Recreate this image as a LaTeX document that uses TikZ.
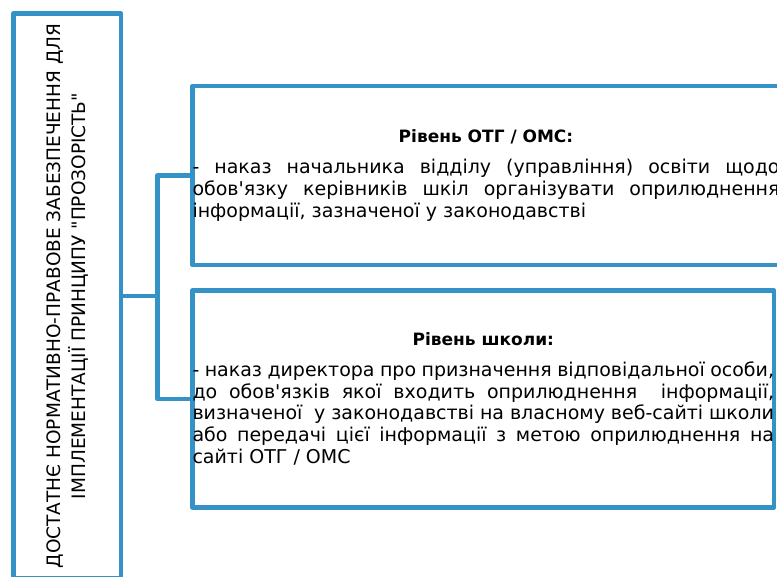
\documentclass[tikz,border=0pt]{standalone}
\usepackage{fontspec}
\setmainfont{DejaVu Sans}
\definecolor{linkblue}{RGB}{52,146,199}
\tikzset{
  box/.style={draw=linkblue, line width=4.75bp, fill=white, line join=round,
    inner sep=0pt, outer sep=0pt},
  link/.style={draw=linkblue, line width=4.75bp, line join=round},
  bodytext/.style={font=\fontsize{19bp}{21.75bp}\selectfont, align=justify}
}
\newcommand{\levelhead}[1]{{\centering\fontsize{17bp}{22bp}\selectfont\bfseries #1\par}\vspace{9bp}}

\begin{document}
\begin{tikzpicture}[x=1bp, y=-1bp]
  \useasboundingbox (0,0) rectangle (777,577);
  \clip (0,0) rectangle (777,577);

  % Connectors first, boxes on top
  \coordinate (fork) at (157.5,296);

  % Left box with the upright title
  \node[box, rotate=90, minimum width=565bp, minimum height=107.5bp, align=center,
        font=\fontsize{18.5bp}{25bp}\selectfont] (basis) at (67.25,296)
    {ДОСТАТНЄ НОРМАТИВНО-ПРАВОВЕ ЗАБЕЗПЕЧЕННЯ ДЛЯ\\
     ІМПЛЕМЕНТАЦІЇ ПРИНЦИПУ \textquotedbl ПРОЗОРІСТЬ\textquotedbl};

  % Level of the community
  \node[box, bodytext, text width=587bp, minimum height=179bp, anchor=west] (otg)
    at (192.5,175.5)
    {\levelhead{Рівень ОТГ / ОМС:}%
     - наказ начальника відділу (управління) освіти щодо\linebreak
     обов\textquotesingle язку керівників шкіл організувати оприлюднення\linebreak
     інформації, зазначеної у законодавстві};

  % Level of the school
  \node[box, bodytext, text width=581.5bp, minimum height=217bp, anchor=west] (school)
    at (192.5,399)
    {\levelhead{Рівень школи:}%
     - наказ директора про призначення відповідальної особи,\linebreak
     до обов\textquotesingle язків якої входить оприлюднення\ \ інформації,\linebreak
     визначеної\ \ у законодавстві на власному веб-сайті школи\linebreak
     або передачі цієї інформації з метою оприлюднення на\linebreak
     сайті ОТГ / ОМС};

  % Bracket
  \draw[link] (basis.south) -- (fork);
  \draw[link] (otg.west) -| (fork) |- (school.west);
\end{tikzpicture}
\end{document}
